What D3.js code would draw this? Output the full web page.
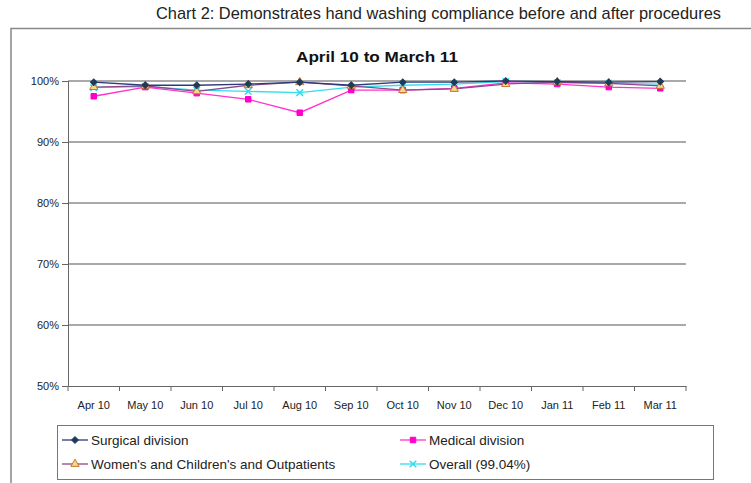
<!DOCTYPE html>
<html><head><meta charset="utf-8">
<script src="https://cdn.jsdelivr.net/npm/d3@7"></script>
<style>body{margin:0;background:#fff}svg{display:block}text{font-family:"Liberation Sans",Arial,sans-serif}</style>
</head><body><svg id="c" width="751" height="483"></svg>
<script>
const months = ["Apr 10","May 10","Jun 10","Jul 10","Aug 10","Sep 10","Oct 10","Nov 10","Dec 10","Jan 11","Feb 11","Mar 11"];
const surgical = [99.8,99.3,99.3,99.5,99.8,99.3,99.8,99.8,100,99.9,99.8,99.9];
const medical  = [97.5,99.0,98.0,97.0,94.8,98.5,98.5,98.8,99.7,99.5,99.0,98.8];
const womens   = [99.0,99.2,98.3,99.3,99.8,99.2,98.5,98.7,99.5,99.8,99.6,99.2];
const overall  = [98.9,99.1,98.5,98.3,98.1,99.0,99.3,99.5,99.9,99.7,99.6,99.5];
const yTicks = [50,60,70,80,90,100];
const seriesNames = ["Surgical division","Medical division","Women's and Children's and Outpatients","Overall (99.04%)"];

const svg = d3.select("#c");
const L=68,R=686,T=81,B=386;
const x = d3.scaleBand().domain(months).range([L,R]);
const y = d3.scaleLinear().domain([50,100]).range([B,T]);

svg.append("text").attr("x",721).attr("y",19).attr("text-anchor","end").attr("font-size",16.4).attr("fill","#222")
  .attr("textLength",565).attr("lengthAdjust","spacingAndGlyphs")
  .text("Chart 2: Demonstrates hand washing compliance before and after procedures");
svg.append("rect").attr("x",11).attr("y",28.5).attr("width",760).attr("height",470).attr("fill","none").attr("stroke","#888").attr("stroke-width",1.5);
svg.append("text").attr("x",377).attr("y",62).attr("text-anchor","middle").attr("font-size",14.5).attr("font-weight","bold").attr("fill","#111")
  .attr("textLength",162).attr("lengthAdjust","spacingAndGlyphs")
  .text("April 10 to March 11");

svg.append("g").selectAll("line").data(yTicks.filter(d=>d>50)).join("line")
  .attr("x1",L).attr("x2",R).attr("y1",d=>y(d)).attr("y2",d=>y(d)).attr("stroke","#555").attr("stroke-width",1.2);

const ya = d3.axisLeft(y).tickValues(yTicks).tickFormat(d=>d+"%").tickSize(6).tickPadding(3);
const gy = svg.append("g").attr("transform",`translate(${L},0)`).call(ya);
gy.select(".domain").attr("stroke","#666");
gy.selectAll(".tick line").attr("stroke","#666");
gy.selectAll("text").attr("font-size",11).attr("fill","#222").attr("font-family","Liberation Sans, Arial, sans-serif");

const xa = d3.axisBottom(x).tickSize(0).tickPadding(15);
const gx = svg.append("g").attr("transform",`translate(0,${B})`).call(xa);
gx.select(".domain").attr("stroke","#666");
gx.selectAll("text").attr("font-size",11).attr("fill","#222").attr("font-family","Liberation Sans, Arial, sans-serif");
svg.append("g").selectAll("line").data(d3.range(months.length+1)).join("line")
  .attr("x1",i=>L+i*x.step()).attr("x2",i=>L+i*x.step()).attr("y1",B).attr("y2",B+5).attr("stroke","#666");

const series = [
  {name:seriesNames[0],vals:surgical,line:"#2e3a78",marker:"diamond",mfill:"#1f3b5a",mstroke:"#1f3b5a"},
  {name:seriesNames[1],vals:medical,line:"#ff33cc",marker:"square",mfill:"#ff00cc",mstroke:"#ff00cc"},
  {name:seriesNames[2],vals:womens,line:"#8a4a8c",marker:"triangle",mfill:"#f5d98a",mstroke:"#c9772f"},
  {name:seriesNames[3],vals:overall,line:"#33ddee",marker:"cross",mfill:"none",mstroke:"#33ddee"}
];
const sym = {diamond:d3.symbolSquare,square:d3.symbolSquare,triangle:d3.symbolTriangle,cross:d3.symbolX};
const sizes = {diamond:22,square:30,triangle:30,cross:30};
const line = d3.line().x((d,i)=>x(months[i])+x.bandwidth()/2).y(d=>y(d));

function marker(g,s,cx,cy){
  g.append("path").attr("d",d3.symbol(sym[s.marker],sizes[s.marker])())
    .attr("transform",`translate(${cx},${cy})`+(s.marker==="diamond"?" rotate(45)":""))
    .attr("fill",s.mfill).attr("stroke",s.mstroke).attr("stroke-width",s.marker==="cross"?1.5:1);
}
const draw=[series[3],series[1],series[2],series[0]];
draw.forEach(s=>{
  svg.append("path").datum(s.vals).attr("d",line).attr("fill","none").attr("stroke",s.line).attr("stroke-width",1.3);
});
draw.forEach(s=>{
  const g=svg.append("g");
  s.vals.forEach((v,i)=>marker(g,s,x(months[i])+x.bandwidth()/2,y(v)));
});

svg.append("rect").attr("x",57.5).attr("y",425.5).attr("width",656).attr("height",54).attr("fill","none").attr("stroke","#777");
const pos=[[62,440],[400,440],[62,464],[400,464]];
series.forEach((s,i)=>{
  const [lx,ly]=pos[i];
  const g=svg.append("g");
  g.append("line").attr("x1",lx).attr("x2",lx+26).attr("y1",ly).attr("y2",ly).attr("stroke",s.line).attr("stroke-width",1.3);
  marker(g,s,lx+13,ly);
  g.append("text").attr("x",lx+29).attr("y",ly+5).attr("font-size",13.5).attr("fill","#222").text(s.name);
});
</script></body></html>
